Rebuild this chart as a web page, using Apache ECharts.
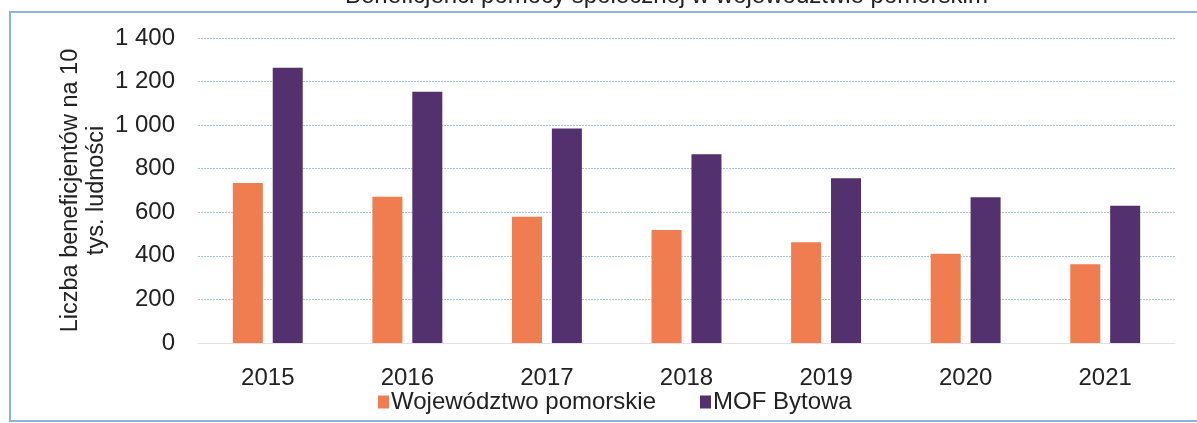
<!DOCTYPE html>
<html>
<head>
<meta charset="utf-8">
<script src="https://cdn.jsdelivr.net/npm/echarts@6/dist/echarts.min.js"></script>
<style>
  html, body { margin: 0; padding: 0; background: #fff; }
  #chart { width: 1197px; height: 423px; }
</style>
</head>
<body>
<div id="chart"></div>
<script>
// lata
var years = ['2015', '2016', '2017', '2018', '2019', '2020', '2021'];
// liczba beneficjentow na 10 tys. ludnosci
var pomorskie = [735, 671, 580, 519, 462, 410, 361];
var bytow = [1263, 1153, 985, 866, 756, 669, 630];
var seriesNames = ['Województwo pomorskie', 'MOF Bytowa'];
var yTicks = [0, 200, 400, 600, 800, 1000, 1200, 1400];

var myChart = echarts.init(document.getElementById('chart'));

var font = 'Liberation Sans, Arial, sans-serif';

var options = {
	animation: false,
	textStyle: { fontFamily: font },
	graphic: [{
		type: 'rect',
		shape: { x: 10, y: 12, width: 1200, height: 409 },
		style: { fill: 'none', stroke: '#8db4da', lineWidth: 2 }
	}, {
		type: 'text',
		left: 345,
		top: -16,
		style: {
			text: 'Beneficjenci pomocy społecznej w województwie pomorskim',
			font: '24px ' + font,
			fill: '#222'
		}
	}],
	grid: { left: 198, right: 22, top: 38, bottom: 80 },
	legend: {
		left: 373,
		top: 385,
		itemWidth: 11,
		itemHeight: 13,
		itemGap: 44,
		icon: 'rect',
		textStyle: { fontSize: 24, color: '#222', padding: [0, 0, 0, -3] },
		data: seriesNames
	},
	xAxis: [{
		type: 'category',
		data: years,
		axisLine: { lineStyle: { color: '#e2e2e2' } },
		axisTick: { show: false },
		axisLabel: { fontSize: 24, color: '#222', margin: 23 }
	}],
	yAxis: [{
		type: 'value',
		min: yTicks[0],
		max: yTicks[yTicks.length - 1],
		interval: 200,
		name: 'Liczba beneficjentów na 10\ntys. ludności',
		nameLocation: 'middle',
		nameRotate: 90,
		nameGap: 88,
		nameMoveOverlap: false,
		nameTextStyle: { fontSize: 23.5, color: '#222', lineHeight: 26 },
		axisLine: { show: false },
		axisTick: { show: false },
		axisLabel: {
			fontSize: 24,
			color: '#222',
			margin: 23,
			formatter: function(v) {
				return String(v).replace(/\B(?=(\d{3})+(?!\d))/g, ' ');
			}
		},
		splitLine: { lineStyle: { color: '#a6c6e0', type: [2, 1], width: 1.2 } }
	}],
	series: [{
		name: seriesNames[0],
		type: 'bar',
		data: pomorskie,
		barWidth: 30,
		barGap: '33%',
		itemStyle: { color: '#ef7d50' }
	}, {
		name: seriesNames[1],
		type: 'bar',
		data: bytow,
		barWidth: 30,
		itemStyle: { color: '#53306e' }
	}]
};

myChart.setOption(options, true);
</script>
</body>
</html>
